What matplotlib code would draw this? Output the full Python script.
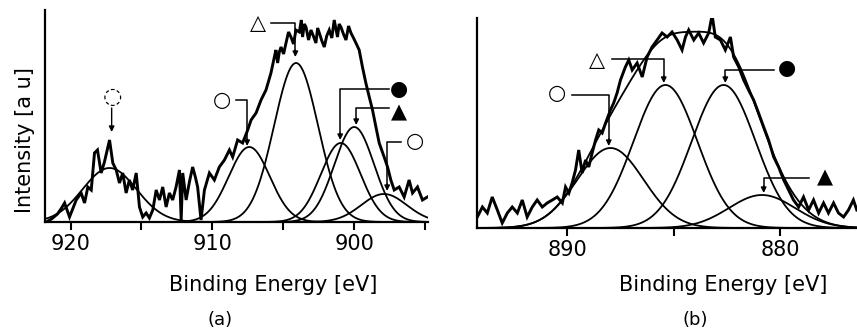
import numpy as np
import matplotlib
matplotlib.use("Agg")
import matplotlib.pyplot as plt

# ---------------- Panel (a) data: binding energy [eV], intensity [a.u.]
energy_a = [921.71, 921.34, 920.92, 920.63, 920.42, 920.07, 919.60, 919.25, 919.01, 918.78,
            918.54, 918.31, 918.10, 917.84, 917.61, 917.25, 917.02, 916.78, 916.55, 916.32,
            916.08, 915.85, 915.62, 915.37, 915.14, 914.91, 914.67, 914.44, 914.20, 913.96,
            913.73, 913.50, 913.26, 913.03, 912.80, 912.56, 912.32, 912.20, 912.09, 911.85,
            911.62, 911.39, 911.20, 911.04, 910.80, 910.56, 910.21, 909.86, 909.51, 909.15,
            908.80, 908.57, 908.22, 907.87, 907.51, 907.27, 906.92, 906.57, 906.22, 905.87,
            905.63, 905.52, 905.40, 905.28, 905.16, 904.98, 904.81, 904.63, 904.46, 904.28,
            904.11, 903.87, 903.73, 903.64, 903.52, 903.40, 903.22, 903.05, 902.88, 902.70,
            902.58, 902.46, 902.28, 902.11, 901.94, 901.76, 901.58, 901.41, 901.18, 901.06,
            900.94, 900.76, 900.58, 900.40, 900.23, 900.05, 899.88, 899.65, 899.42, 899.18,
            898.94, 898.71, 898.47, 898.24, 897.89, 897.65, 897.42, 897.18, 896.83, 896.48,
            896.13, 895.89, 895.54, 895.19, 894.84]
intensity_a = [0, 3, 8, 14, 19, 5, 22, 29, 19, 35,
               32, 69, 72, 49, 60, 82, 59, 52, 39, 49,
               29, 42, 32, 49, 15, 5, 9, 4, 12, 32,
               22, 35, 15, 29, 22, 35, 52, 2, 49, 22,
               40, 55, 45, 35, 2, 32, 49, 42, 55, 62,
               72, 65, 82, 79, 92, 102, 109, 122, 132, 149,
               165, 172, 159, 170, 175, 168, 179, 190, 185, 178,
               192, 190, 202, 185, 198, 195, 182, 192, 186, 179,
               194, 189, 181, 175, 186, 192, 184, 202, 185, 198,
               195, 188, 182, 196, 189, 184, 179, 172, 155, 139,
               125, 112, 95, 79, 65, 55, 42, 32, 35, 25,
               42, 29, 35, 22, 25]

# fitted components (a): centre [eV], height, sigma [eV]
centers_a = [917.25, 907.40, 904.10, 900.95, 900.00, 897.90]
heights_a = [54, 75, 159, 79, 95, 28]
sigmas_a = [1.9, 1.45, 1.55, 1.4, 1.4, 1.6]

# ---------------- Panel (b) data
energy_b = [894.22, 893.98, 893.75, 893.52, 893.28, 893.05, 892.81, 892.58, 892.34, 892.11,
            891.88, 891.64, 891.41, 891.17, 890.94, 890.70, 890.47, 890.23, 890.08, 889.92,
            889.77, 889.61, 889.46, 889.30, 889.14, 888.99, 888.83, 888.67, 888.52, 888.36,
            888.20, 887.97, 887.82, 887.66, 887.50, 887.27, 887.11, 886.95, 886.72, 886.48,
            886.25, 886.02, 885.78, 885.55, 885.31, 885.08, 884.84, 884.61, 884.45, 884.30,
            884.06, 883.83, 883.60, 883.36, 883.20, 883.05, 882.81, 882.58, 882.34, 882.19,
            881.95, 881.72, 881.49, 881.25, 881.02, 880.78, 880.55, 880.31, 880.08, 879.84,
            879.61, 879.38, 879.14, 878.91, 878.67, 878.44, 878.20, 877.97, 877.74, 877.50,
            877.27, 877.03, 876.80, 876.57, 876.41]
intensity_b = [11, 21, 15, 31, 18, 5, 15, 21, 15, 28,
               11, 21, 28, 21, 25, 28, 31, 25, 41, 35,
               45, 58, 78, 55, 68, 61, 75, 88, 98, 95,
               105, 118, 125, 135, 148, 161, 168, 158, 165, 151,
               171, 181, 188, 195, 191, 196, 188, 178, 191, 198,
               188, 195, 185, 195, 213, 191, 188, 178, 191, 171,
               161, 148, 138, 128, 115, 101, 88, 71, 61, 48,
               38, 28, 21, 31, 18, 28, 15, 25, 15, 25,
               15, 11, 18, 28, 18]

centers_b = [887.97, 885.39, 882.66, 880.86]
heights_b = [80, 143, 143, 33]
sigmas_b = [1.55, 1.5, 1.5, 1.55]

ticks_a = [920, 910, 900]
minor_a = [915, 905, 895]
ticks_b = [890, 880]
minor_b = [885]

FONT = "DejaVu Sans"
plt.rcParams['font.family'] = [FONT]

fig = plt.figure(figsize=(8.57, 3.30), dpi=100)
ax_a = fig.add_axes([0.0525, 0.3273, 0.4469, 0.6424])
ax_b = fig.add_axes([0.5562, 0.3091, 0.4438, 0.6364])


def gauss(x, c, h, s):
    return h * np.exp(-(x - c) ** 2 / (2 * s ** 2))


def style(ax, xlim, ylim, major, minor):
    ax.set_xlim(*xlim)
    ax.set_ylim(*ylim)
    for s in ['top', 'right']:
        ax.spines[s].set_visible(False)
    for s in ['left', 'bottom']:
        ax.spines[s].set_linewidth(1.6)
    ax.set_yticks([])
    ax.set_xticks(major)
    ax.set_xticks(minor, minor=True)
    ax.set_xticklabels([str(t) for t in major])
    ax.tick_params(axis='x', which='both', direction='out', length=6, width=1.5,
                   labelsize=15, pad=3)


def draw(ax, E, I, cs, hs, ss, xlim, envelope):
    x = np.linspace(xlim[0], xlim[1], 600)
    total = np.zeros_like(x)
    for c, h, s in zip(cs, hs, ss):
        g = gauss(x, c, h, s)
        total += g
        ax.plot(x, g, color='black', lw=1.3)
    if envelope:
        ax.plot(x, total, color='black', lw=1.3)
    ax.plot(E, I, color='black', lw=2.1, solid_joinstyle='miter')


xlim_a = (921.8, 894.8)
xlim_b = (894.25, 876.4)
draw(ax_a, energy_a, intensity_a, centers_a, heights_a, sigmas_a, xlim_a, False)
draw(ax_b, energy_b, intensity_b, centers_b, heights_b, sigmas_b, xlim_b, True)
style(ax_a, xlim_a, (0, 212), ticks_a, minor_a)
style(ax_b, xlim_b, (0, 210), ticks_b, minor_b)


def label(ax, sym, txy, path, ls='-'):
    ax.text(txy[0], txy[1], sym, ha='center', va='center', fontsize=15,
            family=FONT, color='black')
    xs = [p[0] for p in path]
    ys = [p[1] for p in path]
    ax.plot(xs[:-1] + [xs[-1]], ys[:-1] + [ys[-1] + 6], color='black', lw=1.1, ls=ls)
    ax.annotate('', xy=(xs[-1], ys[-1]), xytext=(xs[-1], ys[-1] + 7),
                arrowprops=dict(arrowstyle='-|>', color='black', lw=1.0,
                                mutation_scale=8, shrinkA=0, shrinkB=0))


# panel (a) labels
ax_a.text(917.05, 125, '\u25cc', ha='center', va='center', fontsize=16, color='black')
ax_a.annotate('', xy=(917.1, 90), xytext=(917.1, 114),
              arrowprops=dict(arrowstyle='-|>', color='black', lw=1.0,
                              mutation_scale=8, shrinkA=0, shrinkB=0))
label(ax_a, '\u25cb', (909.3, 122), [(908.3, 122), (907.55, 122), (907.55, 76)])
label(ax_a, '\u25b3', (906.8, 199), [(905.85, 199), (904.15, 199), (904.15, 165)])
label(ax_a, '\u25cf', (896.85, 133), [(897.55, 133), (900.99, 133), (900.99, 82)])
label(ax_a, '\u25b2', (896.85, 110), [(897.55, 114), (899.86, 114), (899.86, 97)])
label(ax_a, '\u25cb', (895.75, 81), [(896.7, 80), (897.68, 80), (897.68, 31)])

# panel (b) labels
label(ax_b, '\u25cb', (890.47, 135), [(889.77, 133), (888.05, 133), (888.05, 82)])
label(ax_b, '\u25b3', (888.6, 168), [(887.89, 169), (885.47, 169), (885.47, 145)])
label(ax_b, '\u25cf', (879.69, 160), [(880.31, 158), (882.58, 158), (882.58, 145)])
label(ax_b, '\u25b2', (877.9, 51), [(878.67, 50), (880.78, 50), (880.78, 35)])

fig.text(0.3186, 0.1364, 'Binding Energy [eV]', ha='center', va='center', fontsize=15)
fig.text(0.8436, 0.1364, 'Binding Energy [eV]', ha='center', va='center', fontsize=15)
fig.text(0.2567, 0.0303, '(a)', ha='center', va='center', fontsize=13)
fig.text(0.811, 0.0303, '(b)', ha='center', va='center', fontsize=13)
fig.text(0.029, 0.576, 'Intensity [a u]', ha='center', va='center', rotation=90, fontsize=15)

fig.savefig('out.png', dpi=100)
